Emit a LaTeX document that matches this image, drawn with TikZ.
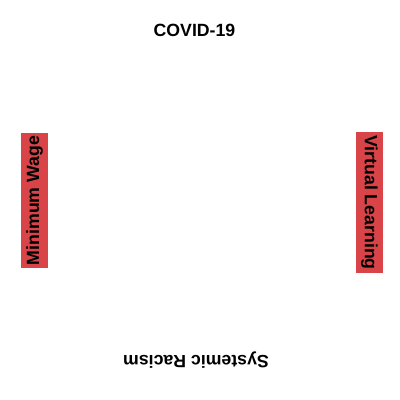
\documentclass[tikz,border=0pt]{standalone}
\usepackage{fontspec}
\setmainfont{Liberation Sans}
\definecolor{boxred}{RGB}{216,68,72}
\begin{document}
\begin{tikzpicture}[x=1pt,y=-1pt,
  lbl/.style={font=\fontsize{17.7}{20}\selectfont\bfseries, text=black,
    text height=12.7pt, text depth=3.6pt, inner ysep=5.3pt, inner xsep=2.9pt},
  redbox/.style={lbl, fill=boxred}]
\useasboundingbox (0,0) rectangle (400,400);
\node[lbl, anchor=base, inner sep=0pt, text height=, text depth=] (covid) at (194.5,36) {COVID-19};
\node[redbox, rotate=90] (mw) at (34.5,200.5) {Minimum Wage};
\node[redbox, rotate=-90] (vl) at (369.5,202.5) {Virtual Learning};
\node[lbl, rotate=180, anchor=base, inner sep=0pt, text height=, text depth=] (sr) at (196,355) {Systemic Racism};
\end{tikzpicture}
\end{document}
